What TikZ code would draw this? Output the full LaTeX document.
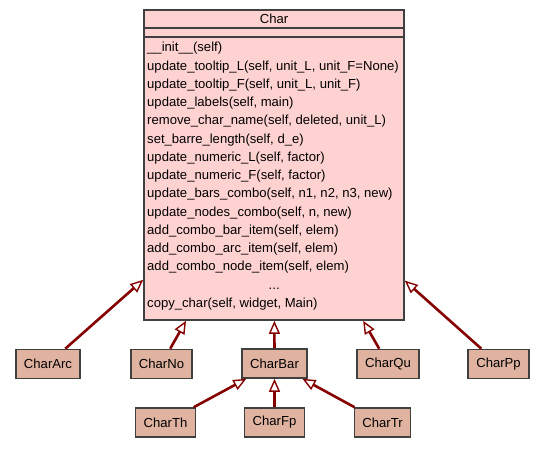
\documentclass[tikz,border=0pt]{standalone}
\usepackage{fontspec}
\setmainfont{Liberation Sans}
\usetikzlibrary{arrows.meta,positioning}
\definecolor{clsfill}{HTML}{FFD2D2}
\definecolor{subfill}{HTML}{E0B3A1}
\definecolor{edgecol}{HTML}{850000}
\definecolor{bordercol}{HTML}{404040}

\begin{document}
\begin{tikzpicture}[
    x=1pt, y=-1pt,
    every node/.style={font=\fontsize{13.1}{18.25}\selectfont},
    cls/.style={rectangle, draw=bordercol, fill=clsfill, line width=1.6pt},
    sub/.style={rectangle, draw=bordercol, fill=subfill, line width=1.6pt,
                inner xsep=8pt, minimum height=29pt},
    inherit/.style={draw=edgecol, line width=2.6pt,
                    -{Triangle[open, length=13pt, width=11pt, line width=1.4pt]}}
]
    \useasboundingbox (0,0) rectangle (544,448);

    % base class
    \node[cls, minimum width=260pt, minimum height=310pt] (char) at (274,165) {};
    \node (title) at (274,19) {Char};
    \draw[bordercol, line width=1.6pt] (char.west |- 0,28) -- (char.east |- 0,28);
    \draw[bordercol, line width=1.6pt] (char.west |- 0,37) -- (char.east |- 0,37);
    \node[anchor=north west, inner sep=0pt] (ops) at (147,39) {%
        \begin{tabular}{@{}l@{}}
        \_\_init\_\_(self)\\
        update\_tooltip\_L(self, unit\_L, unit\_F=None)\\
        update\_tooltip\_F(self, unit\_L, unit\_F)\\
        update\_labels(self, main)\\
        remove\_char\_name(self, deleted, unit\_L)\\
        set\_barre\_length(self, d\_e)\\
        update\_numeric\_L(self, factor)\\
        update\_numeric\_F(self, factor)\\
        update\_bars\_combo(self, n1, n2, n3, new)\\
        update\_nodes\_combo(self, n, new)\\
        add\_combo\_bar\_item(self, elem)\\
        add\_combo\_arc\_item(self, elem)\\
        add\_combo\_node\_item(self, elem)\\
        \multicolumn{1}{@{}c@{}}{\makebox[254pt]{...}}\\
        copy\_char(self, widget, Main)
        \end{tabular}};

    % subclasses
    \node[sub] (arc) at (48,364) {CharArc};
    \node[sub] (no) at (161.5,364) {CharNo};
    \node[sub] (bar) at (274.5,363.5) {CharBar};
    \node[sub] (qu) at (388,364) {CharQu};
    \node[sub] (pp) at (498.5,364) {CharPp};
    \node[sub] (th) at (165.5,422.5) {CharTh};
    \node[sub] (fp) at (274.5,422.5) {CharFp};
    \node[sub] (tr) at (382.5,422.5) {CharTr};

    \draw[inherit] (arc) -- (char);
    \draw[inherit] (no) -- (char);
    \draw[inherit] (bar) -- (char);
    \draw[inherit] (qu) -- (char);
    \draw[inherit] (pp) -- (char);
    \draw[inherit] (th) -- (bar);
    \draw[inherit] (fp) -- (bar);
    \draw[inherit] (tr) -- (bar);
\end{tikzpicture}
\end{document}
